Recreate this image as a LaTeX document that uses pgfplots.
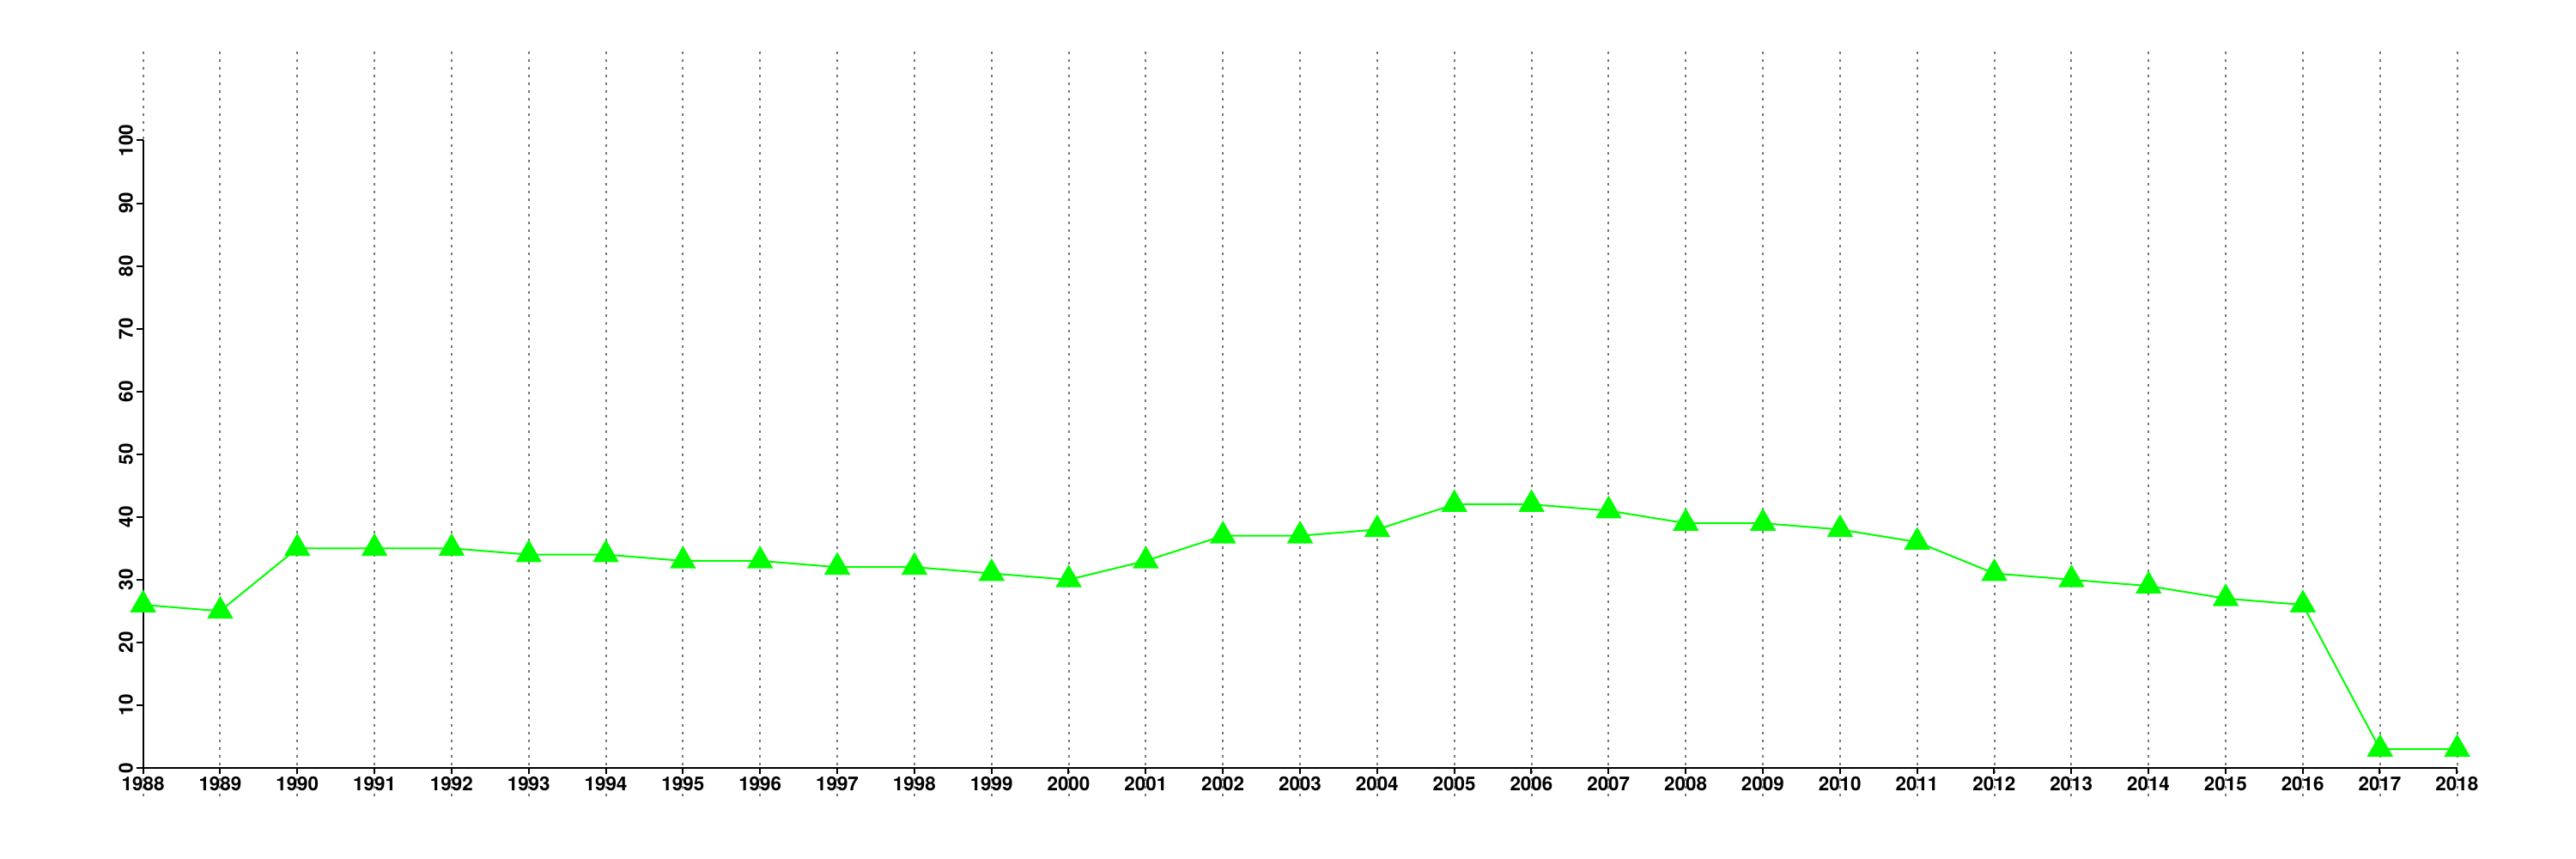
\documentclass[border=0pt]{standalone}
\usepackage{fontspec}
\setmainfont{TeX Gyre Heros}
\usepackage{pgfplots}
\pgfplotsset{compat=1.18}
\definecolor{lgreen}{RGB}{0,255,0}
\definecolor{gridgray}{RGB}{120,120,120}
\begin{document}
\begin{tikzpicture}
\path[use as bounding box] (-83.3pt,-53pt) rectangle (1416.7pt,447pt);
\begin{axis}[
  at={(0,0)}, anchor=south west,
  scale only axis, width=1347.5pt, height=365.25pt,
  xmin=1988, xmax=2018, ymin=0, ymax=100,
  clip=false, axis on top=true,
  axis x line*=bottom, axis y line*=left,
  axis line style={-, black, line width=1pt},
  xtick={1988,1989,...,2018}, ytick={0,10,...,100},
  minor tick num=0,
  tick align=outside, major tick length=3.7pt,
  tick style={black, line width=1pt},
  /pgf/number format/assume math mode=true,
  /pgf/number format/1000 sep={},
  ticklabel style={font=\fontsize{11.2}{13}\selectfont\bfseries},
  xticklabel style={inner sep=1pt},
  yticklabel style={rotate=90, anchor=south, inner sep=2pt},
]
\pgfplotsinvokeforeach{1988,1989,...,2018}{
  \draw[gridgray, line width=1pt, dash pattern=on 1.35pt off 3.15pt] (axis cs:#1,-4.5) -- (axis cs:#1,114.2);
}
\addplot[lgreen, line width=1pt, mark=triangle*, mark size=7.8pt, mark options={draw=none, fill=lgreen}] coordinates {
(1988,26) (1989,25) (1990,35) (1991,35) (1992,35) (1993,34) (1994,34) (1995,33)
(1996,33) (1997,32) (1998,32) (1999,31) (2000,30) (2001,33) (2002,37) (2003,37)
(2004,38) (2005,42) (2006,42) (2007,41) (2008,39) (2009,39) (2010,38) (2011,36)
(2012,31) (2013,30) (2014,29) (2015,27) (2016,26) (2017,3) (2018,3)
};
\end{axis}
\end{tikzpicture}
\end{document}
